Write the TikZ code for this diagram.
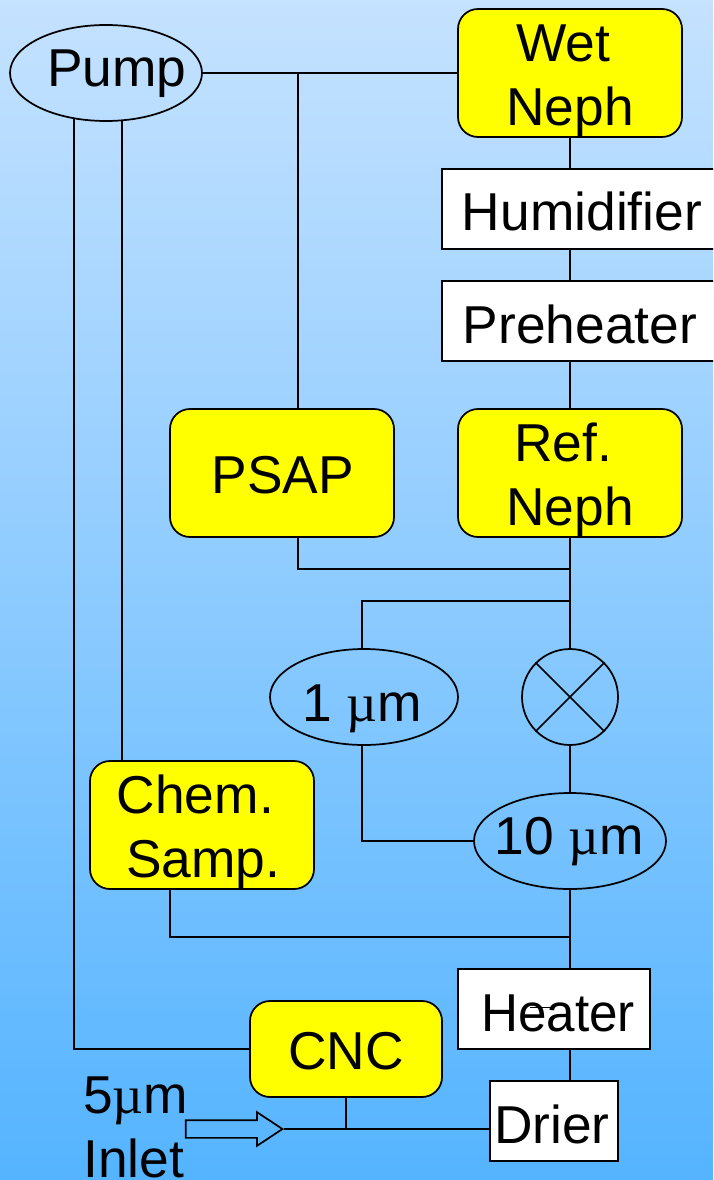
\documentclass[tikz,border=0pt]{standalone}
\usepackage{fontspec}
\setmainfont{Liberation Sans}
\newfontfamily\mufont{Liberation Serif}
\usetikzlibrary{shapes.geometric,shapes.arrows}
\definecolor{skytop}{RGB}{197,226,255}
\definecolor{skybottom}{RGB}{85,180,255}
\definecolor{instyellow}{RGB}{255,255,0}
\newcommand{\um}{{\mufont µ}m}
% text set on a baseline at an offset from the middle of its node, in pt
\newcommand{\txt}[3]{\raisebox{#2}[0pt][0pt]{\makebox[0pt]{\hspace*{#1}#3}}}
\tikzset{
  every node/.style={font=\fontsize{40}{48}\selectfont,inner sep=0pt,align=center},
  conn/.style={draw=black,line width=1.3pt},
  inst/.style={conn,fill=instyellow,rounded corners=15pt,minimum width=168pt,minimum height=96pt},
  plainbox/.style={conn,fill=white,minimum height=60pt},
  size/.style={conn,ellipse,minimum height=72pt},
}

\begin{document}
\begin{tikzpicture}[x=0.75pt,y=-0.75pt]
        \shade[top color=skytop,bottom color=skybottom] (0,0) rectangle (713,1180);
        \clip (0,0) rectangle (713,1180);

        % top of the sample line
        \node[size,minimum width=144pt] (pump) at (106,73) {\txt{16pt}{-10.5pt}{Pump}};
        \node[inst] (wetneph) at (570,73) {\txt{-10pt}{-15.7pt}{Wet}\\\txt{0pt}{-15.7pt}{Neph}};
        \node[plainbox,minimum width=216pt] (humid) at (586,209) {\txt{-6pt}{-16.5pt}{Humidifier}};
        \node[plainbox,minimum width=216pt] (preheat) at (586,321) {\txt{-9pt}{-16.5pt}{Preheater}};
        \node[inst] (psap) at (282,473) {\txt{1pt}{-15.5pt}{PSAP}};
        \node[inst] (refneph) at (570,473) {\txt{-10pt}{-15.5pt}{Ref.}\\\txt{0pt}{-15.5pt}{Neph}};

        % size cuts
        \node[size,minimum width=141pt] (onemu) at (364,697) {\txt{-3pt}{-18.5pt}{1 \um}};
        \node[conn,circle,minimum size=72pt] (valve) at (570,697) {};
        \node[size,minimum width=144pt] (tenmu) at (570,841) {\txt{-1pt}{-10pt}{10 \um}};

        % lower part
        \node[inst] (chem) at (202,825) {\txt{-10pt}{-15.5pt}{Chem.}\\\txt{2pt}{-15.5pt}{Samp.}};
        \node[plainbox,minimum width=144pt] (heater) at (554,1009) {\txt{6pt}{-16.5pt}{\scalebox{0.96}[1]{Heater}}};
        \node[inst,minimum width=144pt,minimum height=72pt] (cnc) at (346,1049) {\txt{0pt}{-15pt}{CNC}};
        \node[plainbox,minimum width=96pt] (drier) at (554,1121) {\txt{-3pt}{-16.5pt}{Drier}};
        \node[anchor=north west,align=left] (inlet) at (83,1077) {5\um\\Inlet};
        \node[conn,single arrow,minimum width=24pt,minimum height=72.5pt,inner sep=6pt,
              single arrow head extend=6pt,single arrow tip angle=67,anchor=tip] (arrow) at (284,1129) {};

        % junctions on the lines
        \coordinate (pumpa) at (74,118);
        \coordinate (pumpb) at (122,121);
        \coordinate (pumpbus) at (298,73);
        \coordinate (psapout) at (298,537);
        \coordinate (psapbus) at (570,569);
        \coordinate (onebus) at (570,601);
        \coordinate (onetop) at (362,649);
        \coordinate (onebot) at (362,745);
        \coordinate (chemout) at (170,889);
        \coordinate (chembus) at (570,937);
        \coordinate (chemtop) at (122,761);
        \coordinate (cncbus) at (346,1129);
        \coordinate (heatmarka) at (530,1007);
        \coordinate (heatmarkb) at (552,1007);

        % pump lines
        \draw[conn] (pump) -- (wetneph);
        \draw[conn] (pumpbus) -- (pumpbus |- psap.north);
        \draw[conn] (pumpa) |- (cnc.west);
        \draw[conn] (pumpb) -- (chemtop);

        % main stack
        \draw[conn] (wetneph.south) -- (wetneph.south |- humid.north);
        \draw[conn] (wetneph.south |- humid.south) -- (wetneph.south |- preheat.north);
        \draw[conn] (wetneph.south |- preheat.south) -- (refneph.north);
        \draw[conn] (refneph.south) -- (valve.north);
        \draw[conn] (valve.south) -- (tenmu.north);
        \draw[conn] (tenmu.south) -- (tenmu.south |- heater.north);
        \draw[conn] (tenmu.south |- heater.south) -- (tenmu.south |- drier.north);
        \draw[conn] (valve.north west) -- (valve.south east);
        \draw[conn] (valve.north east) -- (valve.south west);
        \draw[line width=0.6pt] (heatmarka) -- (heatmarkb);

        % branches
        \draw[conn] (psapout) |- (psapbus);
        \draw[conn] (onebus) -| (onetop);
        \draw[conn] (onebot) |- (tenmu.west);
        \draw[conn] (chemout) |- (chembus);
        \draw[conn] (cnc.south) -- (cncbus);
        \draw[conn] (arrow.tip) -- (drier.west |- arrow.tip);
\end{tikzpicture}
\end{document}
